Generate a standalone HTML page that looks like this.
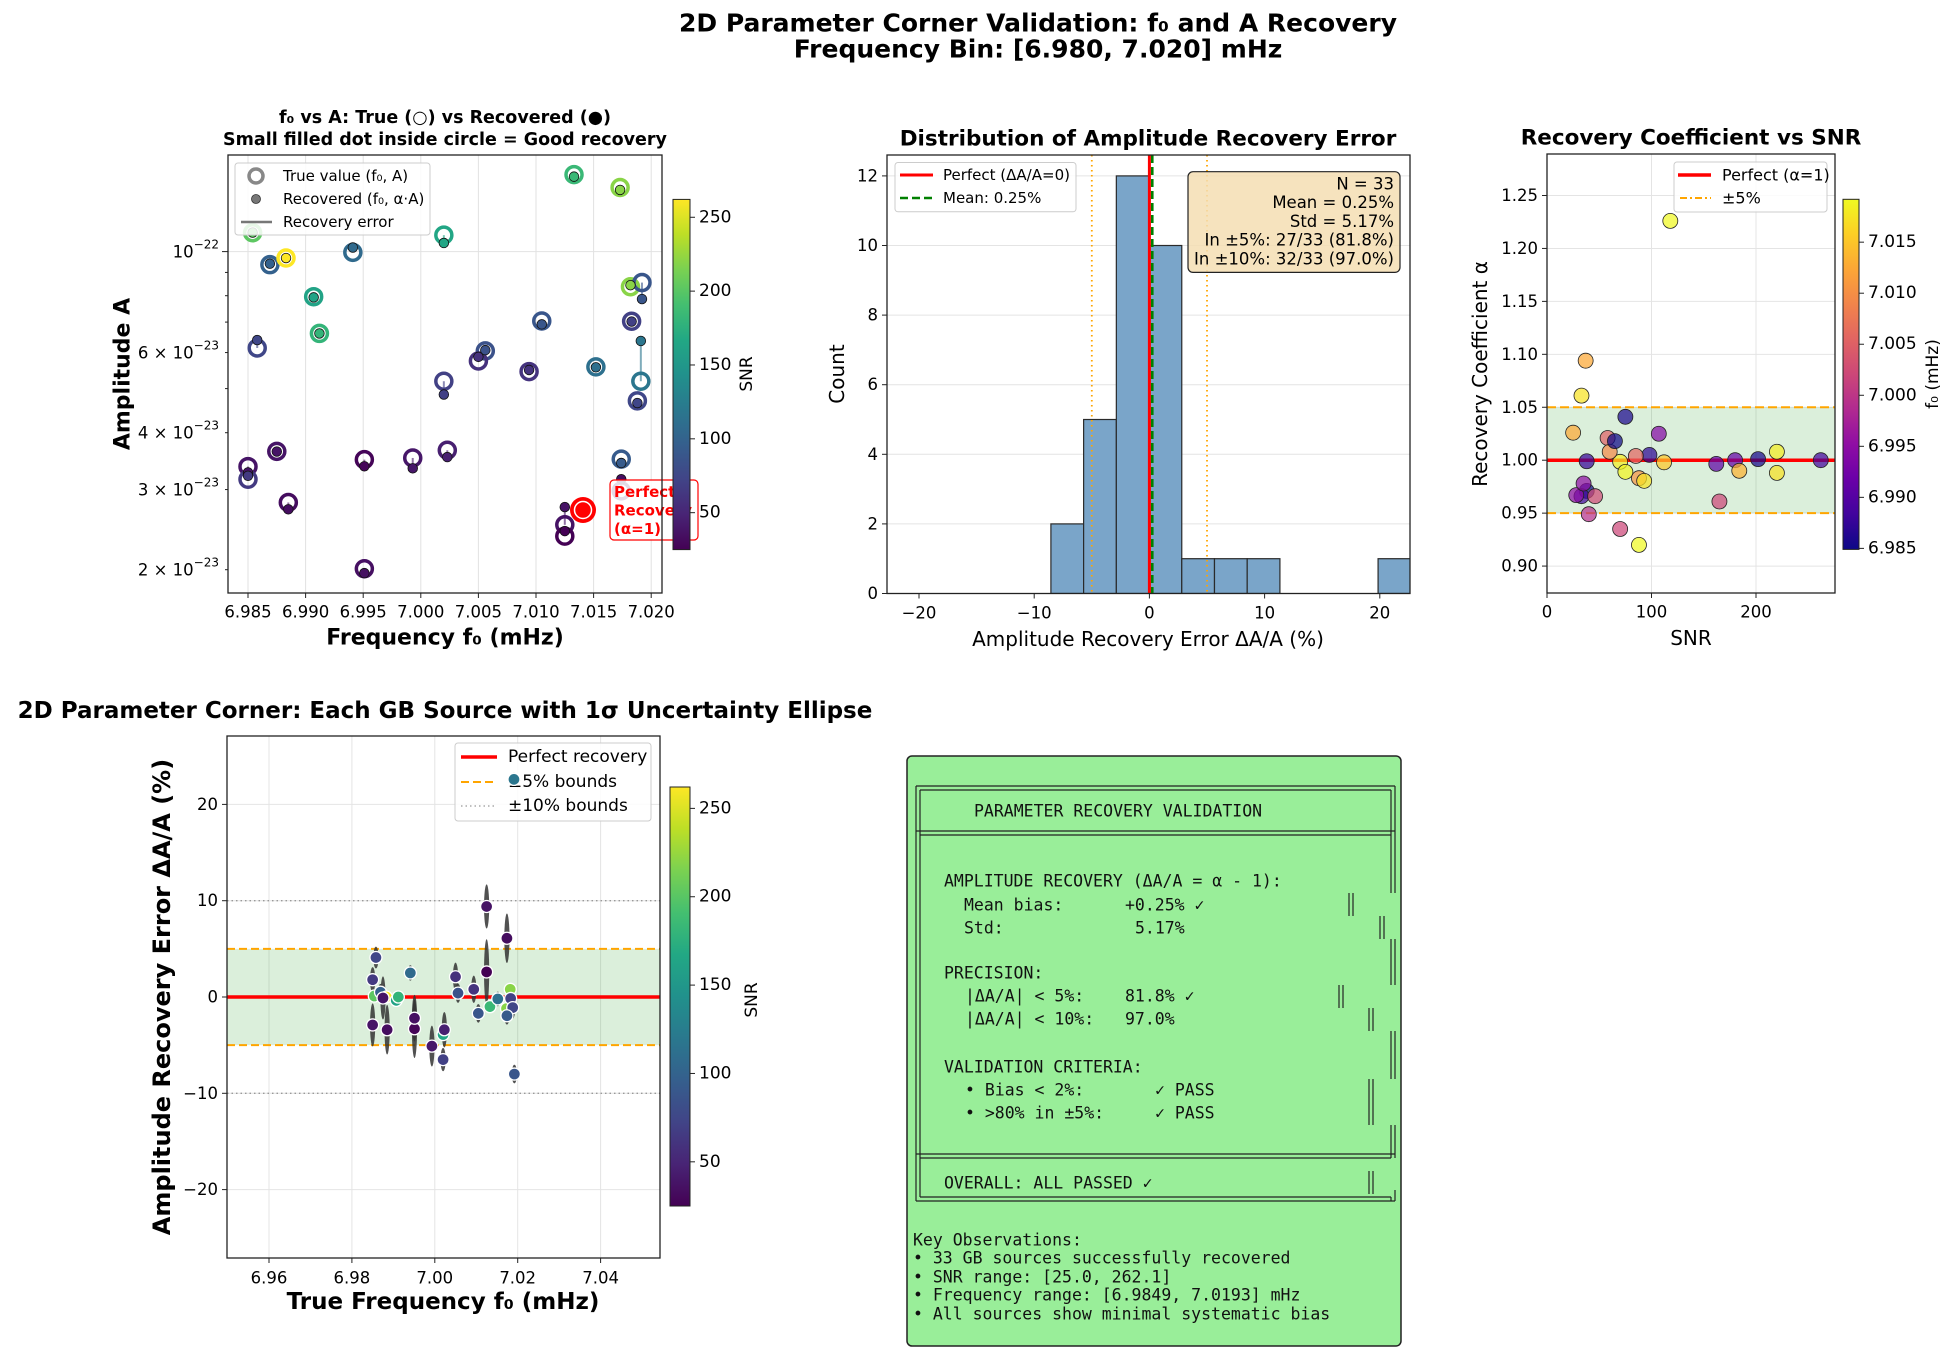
<!DOCTYPE html>
<html><head><meta charset="utf-8">
<style>
html,body{margin:0;padding:0;background:#fff;overflow:hidden;}
svg{display:block;font-family:"DejaVu Sans","Liberation Sans",sans-serif;}
.mono{font-family:"DejaVu Sans Mono","Liberation Mono",monospace;font-size:16.5px;fill:#111;}
</style></head>
<body>
<svg id="fig" width="1953" height="1350" viewBox="0 0 1953 1350" xmlns="http://www.w3.org/2000/svg">
<defs>
<linearGradient id="viridisV" x1="0" y1="1" x2="0" y2="0">
<stop offset="0" stop-color="#440154"/><stop offset="0.1" stop-color="#482475"/><stop offset="0.2" stop-color="#414487"/><stop offset="0.3" stop-color="#355f8d"/><stop offset="0.4" stop-color="#2a788e"/><stop offset="0.5" stop-color="#21918c"/><stop offset="0.6" stop-color="#22a884"/><stop offset="0.7" stop-color="#44bf70"/><stop offset="0.8" stop-color="#7ad151"/><stop offset="0.9" stop-color="#bddf26"/><stop offset="1" stop-color="#fde725"/>
</linearGradient>
<linearGradient id="plasmaV" x1="0" y1="1" x2="0" y2="0">
<stop offset="0" stop-color="#0d0887"/><stop offset="0.1" stop-color="#41049d"/><stop offset="0.2" stop-color="#6a00a8"/><stop offset="0.3" stop-color="#8f0da4"/><stop offset="0.4" stop-color="#b12a90"/><stop offset="0.5" stop-color="#cc4778"/><stop offset="0.6" stop-color="#e16462"/><stop offset="0.7" stop-color="#f2844b"/><stop offset="0.8" stop-color="#fca636"/><stop offset="0.9" stop-color="#fcce25"/><stop offset="1" stop-color="#f0f921"/>
</linearGradient>
<clipPath id="clip1"><rect x="228" y="155" width="434" height="438"/></clipPath>
<clipPath id="clip2"><rect x="887" y="155" width="523" height="438"/></clipPath>
<clipPath id="clip3"><rect x="1547" y="154" width="288" height="439"/></clipPath>
<clipPath id="clip4"><rect x="227" y="736" width="433" height="522"/></clipPath>
</defs>

<text x="1038" y="23" text-anchor="middle" dominant-baseline="central" font-size="25" font-weight="bold">2D Parameter Corner Validation: f₀ and A Recovery</text>
<text x="1038" y="49" text-anchor="middle" dominant-baseline="central" font-size="25" font-weight="bold">Frequency Bin: [6.980, 7.020] mHz</text>

<g id="p1">
<text x="445" y="118" text-anchor="middle" dominant-baseline="central" font-size="17.5" font-weight="bold">f₀ vs A: True (○) vs Recovered (●)</text>
<text x="445" y="140" text-anchor="middle" dominant-baseline="central" font-size="17.5" font-weight="bold">Small filled dot inside circle = Good recovery</text>
<text x="445" y="638" text-anchor="middle" dominant-baseline="central" font-size="22" font-weight="bold">Frequency f₀ (mHz)</text>
<text transform="translate(123,374) rotate(-90)" text-anchor="middle" dominant-baseline="central" font-size="22" font-weight="bold">Amplitude A</text>
<text transform="translate(747,374) rotate(-90)" text-anchor="middle" dominant-baseline="central" font-size="17">SNR</text>
</g>

<g id="p2">
<text x="1148" y="139" text-anchor="middle" dominant-baseline="central" font-size="21.5" font-weight="bold">Distribution of Amplitude Recovery Error</text>
<text x="1148" y="639" text-anchor="middle" dominant-baseline="central" font-size="20">Amplitude Recovery Error ΔA/A (%)</text>
<text transform="translate(837,374) rotate(-90)" text-anchor="middle" dominant-baseline="central" font-size="20">Count</text>
</g>

<g id="p3">
<text x="1691" y="138" text-anchor="middle" dominant-baseline="central" font-size="21.5" font-weight="bold">Recovery Coefficient vs SNR</text>
<text x="1691" y="638" text-anchor="middle" dominant-baseline="central" font-size="20">SNR</text>
<text transform="translate(1480,374) rotate(-90)" text-anchor="middle" dominant-baseline="central" font-size="20">Recovery Coefficient α</text>
<text transform="translate(1933,374) rotate(-90)" text-anchor="middle" dominant-baseline="central" font-size="17">f₀ (mHz)</text>
</g>

<g id="p4">
<text x="445" y="711" text-anchor="middle" dominant-baseline="central" font-size="23" font-weight="bold">2D Parameter Corner: Each GB Source with 1σ Uncertainty Ellipse</text>
<text x="443" y="1302" text-anchor="middle" dominant-baseline="central" font-size="23" font-weight="bold">True Frequency f₀ (mHz)</text>
<text transform="translate(162,997) rotate(-90)" text-anchor="middle" dominant-baseline="central" font-size="24" font-weight="bold">Amplitude Recovery Error ΔA/A (%)</text>
<text transform="translate(752,1000) rotate(-90)" text-anchor="middle" dominant-baseline="central" font-size="17">SNR</text>
</g>

<g id="p5">
<rect x="907" y="756" width="494" height="590" rx="5" fill="#99ee99" stroke="#222" stroke-width="1.5"/>
<g stroke="#222" stroke-width="1.2" fill="none">
<line x1="916" y1="786" x2="1395" y2="786"/><line x1="920" y1="790" x2="1391" y2="790"/>
<line x1="916" y1="831" x2="1395" y2="831"/><line x1="920" y1="835" x2="1391" y2="835"/>
<line x1="916" y1="1154" x2="1395" y2="1154"/><line x1="920" y1="1158" x2="1391" y2="1158"/>
<line x1="916" y1="1201" x2="1395" y2="1201"/><line x1="920" y1="1197" x2="1391" y2="1197"/>
<line x1="916" y1="786" x2="916" y2="1201"/><line x1="920" y1="790" x2="920" y2="1197"/>
<line x1="1391" y1="790" x2="1391" y2="893"/><line x1="1395" y1="786" x2="1395" y2="893"/>
<line x1="1391" y1="939" x2="1391" y2="985"/><line x1="1395" y1="939" x2="1395" y2="985"/>
<line x1="1391" y1="1031" x2="1391" y2="1079"/><line x1="1395" y1="1031" x2="1395" y2="1079"/>
<line x1="1391" y1="1125" x2="1391" y2="1158"/><line x1="1395" y1="1125" x2="1395" y2="1158"/>
<line x1="1391" y1="1197" x2="1391" y2="1201"/><line x1="1395" y1="1190" x2="1395" y2="1201"/>
<line x1="1349" y1="893" x2="1349" y2="916"/><line x1="1353" y1="893" x2="1353" y2="916"/>
<line x1="1380" y1="916" x2="1380" y2="939"/><line x1="1384" y1="916" x2="1384" y2="939"/>
<line x1="1339" y1="985" x2="1339" y2="1008"/><line x1="1343" y1="985" x2="1343" y2="1008"/>
<line x1="1369" y1="1008" x2="1369" y2="1031"/><line x1="1373" y1="1008" x2="1373" y2="1031"/>
<line x1="1369" y1="1079" x2="1369" y2="1125"/><line x1="1373" y1="1079" x2="1373" y2="1125"/>
<line x1="1369" y1="1171" x2="1369" y2="1194"/><line x1="1373" y1="1171" x2="1373" y2="1194"/>
</g>
<g class="mono" dominant-baseline="central">
<text x="974" y="811">PARAMETER RECOVERY VALIDATION</text>
<text x="944" y="881">AMPLITUDE RECOVERY (ΔA/A = α - 1):</text>
<text x="964" y="905">Mean bias:</text>
<text x="1125" y="905">+0.25%  ✓</text>
<text x="964" y="928">Std:</text>
<text x="1135" y="928">5.17%</text>
<text x="944" y="973">PRECISION:</text>
<text x="965" y="996">|ΔA/A| &lt; 5%:</text>
<text x="1125" y="996">81.8%  ✓</text>
<text x="965" y="1019">|ΔA/A| &lt; 10%:</text>
<text x="1125" y="1019">97.0%</text>
<text x="944" y="1067">VALIDATION CRITERIA:</text>
<text x="965" y="1090">• Bias &lt; 2%:</text>
<text x="1155" y="1090">✓ PASS</text>
<text x="965" y="1113">• &gt;80% in ±5%:</text>
<text x="1155" y="1113">✓ PASS</text>
<text x="944" y="1183">OVERALL: ALL PASSED ✓</text>
<text x="913" y="1240">Key Observations:</text>
<text x="913" y="1258">• 33 GB sources successfully recovered</text>
<text x="913" y="1277">• SNR range: [25.0, 262.1]</text>
<text x="913" y="1295">• Frequency range: [6.9849, 7.0193] mHz</text>
<text x="913" y="1314">• All sources show minimal systematic bias</text>
</g>
</g>
</svg>

<script>
// ---- data (33 sources) ----
const f0 = [6.9854,6.9869,6.9883,6.9941,6.9907,6.9912,6.9858,7.0020,7.0133,7.0173,7.0182,7.0192,7.0105,7.0183,7.0191,7.0056,7.0050,7.0094,7.0152,7.0020,7.0188,6.9850,6.9850,6.9875,6.9885,6.9951,6.9993,7.0023,6.9951,7.0174,7.0174,7.0125,7.0125];
const ampTrue = [11.0,9.36,9.68,9.96,7.96,6.61,6.14,10.87,14.76,13.83,8.37,8.55,7.04,7.03,5.19,6.05,5.75,5.45,5.58,5.19,4.70,3.37,3.16,3.64,2.81,3.49,3.52,3.66,2.01,3.50,2.98,2.51,2.37]; // x1e-23
const errPct = [0.1,0.5,0.0,2.5,-0.35,0.0,4.1,-3.9,-1.0,-1.2,0.8,-8.0,-1.7,-0.15,22.6,0.4,2.1,0.8,-0.2,-6.5,-1.1,-2.9,1.8,-0.1,-3.4,-3.3,-5.1,-3.4,-2.2,-1.95,6.1,9.4,2.6];
const snr = [202,98,262,107,162,180,75,165,184,220,220,88,88,70,118,85,58,60,112,70,75,38,65,38,33,28,40,46,35,93,33,37,25];
const histCounts = [2,5,12,10,1,1,1,0,0,0,1];
const histStart = -8.55;
const histWidth = 2.84;
const meanErr = 0.25;
const p1XTicks = [6.985,6.990,6.995,7.000,7.005,7.010,7.015,7.020];
const p1YTicks = [2,3,4,6,10];
const p1YTickLabels = ["2","3","4","6",""];
const p2XTicks = [-20,-10,0,10,20];
const p2YTicks = [0,2,4,6,8,10,12];
const p3XTicks = [0,100,200];
const p3YTicks = [0.90,0.95,1.00,1.05,1.10,1.15,1.20,1.25];
const p3CbTicks = [6.985,6.990,6.995,7.000,7.005,7.010,7.015];
const p4XTicks = [6.96,6.98,7.00,7.02,7.04];
const p4YTicks = [-20,-10,0,10,20];
const snrCbTicks = [50,100,150,200,250];
const snrMin = 25.0, snrMax = 262.1, fMin = 6.9849, fMax = 7.0192;

const NS = "http://www.w3.org/2000/svg";
const svg = document.getElementById('fig');
function mk(tag, attrs, parent){ const e=document.createElementNS(NS,tag); for(const k in attrs) e.setAttribute(k,attrs[k]); (parent||svg).appendChild(e); return e; }
function hex2rgb(h){return [parseInt(h.slice(1,3),16),parseInt(h.slice(3,5),16),parseInt(h.slice(5,7),16)];}
const VIR = ["#440154","#482475","#414487","#355f8d","#2a788e","#21918c","#22a884","#44bf70","#7ad151","#bddf26","#fde725"].map(hex2rgb);
const PLA = ["#0d0887","#41049d","#6a00a8","#8f0da4","#b12a90","#cc4778","#e16462","#f2844b","#fca636","#fcce25","#f0f921"].map(hex2rgb);
function cmap(st,t){ t=Math.max(0,Math.min(1,t)); const p=t*(st.length-1); const i=Math.min(st.length-2,Math.floor(p)); const f=p-i; const c=st[i].map((v,k)=>Math.round(v+(st[i+1][k]-v)*f)); return `rgb(${c[0]},${c[1]},${c[2]})`; }
const snrColor = s => cmap(VIR,(s-snrMin)/(snrMax-snrMin));
const fColor = f => cmap(PLA,(f-fMin)/(fMax-fMin));

// scales
const x1 = f => 248 + (f-6.985)/0.005*57.6;
const y1 = a => 251.6 - (Math.log10(a)-1)*455.1;
const x2 = v => 1149.4 + v*11.52;
const y2 = c => 593.5 - c*34.8;
const x3 = s => 1547 + s*1.045;
const y3 = a => 460.2 - (a-1)*1058.8;
const x4 = f => 269 + (f-6.96)/0.02*82.9;
const y4 = e => 997 - e*9.63;

function axesFrame(g,x,y,w,h){ const r=mk('rect',{x:x,y:y,width:w,height:h,fill:'none',stroke:'#222','stroke-width':1.3},g);   }
const TICK=16.5;

// ============ PANEL 1 ============
const g1 = document.getElementById('p1');
const gr1 = mk('g',{},g1);


p1XTicks.forEach(t=>{ mk('line',{x1:x1(t),x2:x1(t),y1:155,y2:593,stroke:'#e2e2e2','stroke-width':1},gr1); mk('line',{x1:x1(t),x2:x1(t),y1:593,y2:598,stroke:'#222'},g1);
  const l=mk('text',{x:x1(t),y:612,'font-size':TICK,'text-anchor':'middle','dominant-baseline':'central'},g1); l.textContent=t.toFixed(3);
  
   });
mk('line',{x1:228,x2:662,y1:y1(10),y2:y1(10),stroke:'#e2e2e2'},gr1);
[2,3,4,5,6,7,8,9,10].forEach(m=>{ mk('line',{x1:228,x2:m==10?222:225,y1:y1(m),y2:y1(m),stroke:'#222'},g1); });
p1YTicks.forEach((t,i)=>{ const l=mk('text',{x:219,y:y1(t),'font-size':TICK,'text-anchor':'end','dominant-baseline':'central'},g1);
  
  
  const base = t==10 ? "10" : p1YTickLabels[i]+" × 10"; const exp = t==10 ? "−22" : "−23";
  const a=mk('tspan',{},l); a.textContent=base; const b=mk('tspan',{dy:-7,'font-size':12},l); b.textContent=exp; });
const d1 = mk('g',{'clip-path':'url(#clip1)'},g1);


f0.forEach((f,i)=>{
  const c=snrColor(snr[i]); const xt=x1(f), yt=y1(ampTrue[i]), yr=y1(ampTrue[i]*(1+errPct[i]/100));
  const ln=mk('line',{x1:xt,x2:xt,y1:yt,y2:yr,stroke:c,'stroke-width':2,opacity:0.6},d1);
  
  
  const t=mk('circle',{cx:xt,cy:yt,r:8,fill:'none',stroke:c,'stroke-width':3.5},d1);
  
  
});
f0.forEach((f,i)=>{
  const r=mk('circle',{cx:x1(f),cy:y1(ampTrue[i]*(1+errPct[i]/100)),r:4.8,fill:snrColor(snr[i]),stroke:'#111','stroke-width':0.8},d1);
  
  
});
const pm=mk('g',{},g1);


mk('circle',{cx:583,cy:510,r:13,fill:'#ff0000'},pm); mk('circle',{cx:583,cy:510,r:8.5,fill:'none',stroke:'#fff','stroke-width':1.5},pm); mk('circle',{cx:583,cy:510,r:7,fill:'#f00'},pm);
const an=mk('g',{},g1);


mk('rect',{x:610,y:480,width:88,height:60,rx:4,fill:'#fff','fill-opacity':0.85,stroke:'#f00','stroke-width':1.2},an);
['Perfect','Recovery','(α=1)'].forEach((s,i)=>{ const t=mk('text',{x:614,y:492+i*18.5,'font-size':15,'font-weight':'bold',fill:'#f00','dominant-baseline':'central'},an); t.textContent=s; });
axesFrame(g1,228,155,434,438);
const lg1=mk('g',{},g1);


mk('rect',{x:235,y:163,width:195,height:72,rx:3,fill:'#fff','fill-opacity':0.85,stroke:'#ccc'},lg1);
mk('circle',{cx:256,cy:176,r:7,fill:'none',stroke:'#888','stroke-width':3.5},lg1);
mk('circle',{cx:256,cy:199,r:4.5,fill:'#777',stroke:'#333','stroke-width':0.8},lg1);
mk('line',{x1:241,x2:272,y1:222,y2:222,stroke:'#777','stroke-width':2.5},lg1);
[['True value (f₀, A)',176],['Recovered (f₀, α·A)',199],['Recovery error',222]].forEach(([s,y])=>{ const t=mk('text',{x:283,y:y,'font-size':15,'dominant-baseline':'central'},lg1); t.textContent=s; });
const cb1=mk('g',{},g1);


mk('rect',{x:673,y:199.4,width:17,height:350.2,fill:'url(#viridisV)',stroke:'#222','stroke-width':1},cb1);
snrCbTicks.forEach(v=>{ const y=549.6-(v-snrMin)/(snrMax-snrMin)*350.2; mk('line',{x1:690,x2:695,y1:y,y2:y,stroke:'#222'},cb1); const t=mk('text',{x:699,y:y,'font-size':17,'dominant-baseline':'central'},cb1); t.textContent=v; });

// ============ PANEL 2 ============
const g2=document.getElementById('p2');
p2YTicks.forEach(c=>{ mk('line',{x1:887,x2:1410,y1:y2(c),y2:y2(c),stroke:'#e4e4e4'},g2); mk('line',{x1:882,x2:887,y1:y2(c),y2:y2(c),stroke:'#222'},g2);
  const t=mk('text',{x:878,y:y2(c),'font-size':TICK,'text-anchor':'end','dominant-baseline':'central'},g2); t.textContent=c;
  
   });
p2XTicks.forEach(v=>{ mk('line',{x1:x2(v),x2:x2(v),y1:593.5,y2:598.5,stroke:'#222'},g2);
  const t=mk('text',{x:x2(v),y:613,'font-size':TICK,'text-anchor':'middle','dominant-baseline':'central'},g2); t.textContent=(v<0?'−':'')+Math.abs(v);
  
   });
const d2=mk('g',{'clip-path':'url(#clip2)'},g2);
histCounts.forEach((c,i)=>{ if(c<=0) return; const a=histStart+i*histWidth, b=a+histWidth;
  const r=mk('rect',{x:x2(a),y:y2(c),width:x2(b)-x2(a),height:y2(0)-y2(c),fill:'#7aa5c9',stroke:'#2a2a2a','stroke-width':1.2},d2);
  
   });
[-5,5].forEach(v=>{ const l=mk('line',{x1:x2(v),x2:x2(v),y1:155,y2:593.5,stroke:'#ffa500','stroke-width':1.8,'stroke-dasharray':'1.5,3.5'},d2);
  
   });
const rl=mk('line',{x1:x2(0),x2:x2(0),y1:155,y2:593.5,stroke:'#ff0000','stroke-width':3},d2);


const ml=mk('line',{x1:x2(meanErr),x2:x2(meanErr),y1:155,y2:593.5,stroke:'#008000','stroke-width':2.6,'stroke-dasharray':'8,4'},d2);


axesFrame(g2,887,155,523,438.5);
const lg2=mk('g',{},g2);


mk('rect',{x:895,y:162.5,width:181,height:49.3,rx:3,fill:'#fff','fill-opacity':0.85,stroke:'#ccc'},lg2);
mk('line',{x1:900,x2:933,y1:175,y2:175,stroke:'#f00','stroke-width':3},lg2);
mk('line',{x1:900,x2:933,y1:198,y2:198,stroke:'#008000','stroke-width':2.6,'stroke-dasharray':'8,4'},lg2);
[['Perfect (ΔA/A=0)',175],['Mean: 0.25%',198]].forEach(([s,y])=>{ const t=mk('text',{x:943,y:y,'font-size':15,'dominant-baseline':'central'},lg2); t.textContent=s; });
const sb=mk('g',{},g2);


mk('rect',{x:1188,y:171.7,width:212,height:100.7,rx:5,fill:'#f5deb3','fill-opacity':0.85,stroke:'#222','stroke-width':1.2},sb);
['N = 33','Mean = 0.25%','Std = 5.17%','In ±5%: 27/33 (81.8%)','In ±10%: 32/33 (97.0%)'].forEach((s,i)=>{ const t=mk('text',{x:1394,y:184+i*18.7,'font-size':16.5,'text-anchor':'end','dominant-baseline':'central'},sb); t.textContent=s; });

// ============ PANEL 3 ============
const g3=document.getElementById('p3');
p3XTicks.forEach(v=>{ mk('line',{x1:x3(v),x2:x3(v),y1:154,y2:593,stroke:'#e4e4e4'},g3); mk('line',{x1:x3(v),x2:x3(v),y1:593,y2:598,stroke:'#222'},g3);
  const t=mk('text',{x:x3(v),y:612,'font-size':TICK,'text-anchor':'middle','dominant-baseline':'central'},g3); t.textContent=v;
  
   });
p3YTicks.forEach(v=>{ mk('line',{x1:1547,x2:1835,y1:y3(v),y2:y3(v),stroke:'#e4e4e4'},g3); mk('line',{x1:1542,x2:1547,y1:y3(v),y2:y3(v),stroke:'#222'},g3);
  const t=mk('text',{x:1538,y:y3(v),'font-size':TICK,'text-anchor':'end','dominant-baseline':'central'},g3); t.textContent=v.toFixed(2);
  
   });
const d3=mk('g',{'clip-path':'url(#clip3)'},g3);
const band3=mk('rect',{x:1547,y:y3(1.05),width:288,height:y3(0.95)-y3(1.05),fill:'#2ca02c','fill-opacity':0.17},d3);


[0.95,1.05].forEach(v=>{ mk('line',{x1:1547,x2:1835,y1:y3(v),y2:y3(v),stroke:'#ffa500','stroke-width':2,'stroke-dasharray':'9,4'},d3); });
const rl3=mk('line',{x1:1547,x2:1835,y1:y3(1),y2:y3(1),stroke:'#ff0000','stroke-width':3.5},d3);


f0.forEach((f,i)=>{ const c=mk('circle',{cx:x3(snr[i]),cy:y3(1+errPct[i]/100),r:7.5,fill:fColor(f),'fill-opacity':0.72,stroke:'#222','stroke-width':0.8},d3);
  
   });
axesFrame(g3,1547,154,288,439);
const lg3=mk('g',{},g3);


mk('rect',{x:1674,y:162,width:153,height:50,rx:3,fill:'#fff','fill-opacity':0.85,stroke:'#ccc'},lg3);
mk('line',{x1:1678,x2:1711,y1:175,y2:175,stroke:'#f00','stroke-width':3.5},lg3);
mk('line',{x1:1680,x2:1711,y1:198,y2:198,stroke:'#ffa500','stroke-width':2,'stroke-dasharray':'7,3,2,3'},lg3);
[['Perfect (α=1)',175],['±5%',198]].forEach(([s,y])=>{ const t=mk('text',{x:1722,y:y,'font-size':16,'dominant-baseline':'central'},lg3); t.textContent=s; });
const cb3=mk('g',{},g3);


mk('rect',{x:1843,y:199.3,width:16,height:350.1,fill:'url(#plasmaV)',stroke:'#222','stroke-width':1},cb3);
p3CbTicks.forEach(v=>{ const y=549.4-(v-fMin)/(fMax-fMin)*350.1; mk('line',{x1:1859,x2:1864,y1:y,y2:y,stroke:'#222'},cb3); const t=mk('text',{x:1868,y:y,'font-size':17,'dominant-baseline':'central'},cb3); t.textContent=v.toFixed(3); });

// ============ PANEL 4 ============
const g4=document.getElementById('p4');
p4XTicks.forEach(v=>{ mk('line',{x1:x4(v),x2:x4(v),y1:736,y2:1258,stroke:'#e4e4e4'},g4); mk('line',{x1:x4(v),x2:x4(v),y1:1258,y2:1263,stroke:'#222'},g4);
  const t=mk('text',{x:x4(v),y:1278,'font-size':TICK,'text-anchor':'middle','dominant-baseline':'central'},g4); t.textContent=v.toFixed(2);
  
   });
p4YTicks.forEach(v=>{ mk('line',{x1:227,x2:660,y1:y4(v),y2:y4(v),stroke:'#e4e4e4'},g4); mk('line',{x1:222,x2:227,y1:y4(v),y2:y4(v),stroke:'#222'},g4);
  const t=mk('text',{x:218,y:y4(v),'font-size':TICK,'text-anchor':'end','dominant-baseline':'central'},g4); t.textContent=(v<0?'−':'')+Math.abs(v);
  
   });
const d4=mk('g',{'clip-path':'url(#clip4)'},g4);
const band4=mk('rect',{x:227,y:y4(5),width:433,height:y4(-5)-y4(5),fill:'#2ca02c','fill-opacity':0.17},d4);


[-10,10].forEach(v=>{ mk('line',{x1:227,x2:660,y1:y4(v),y2:y4(v),stroke:'#999','stroke-width':1.3,'stroke-dasharray':'1.5,3'},d4); });
[-5,5].forEach(v=>{ mk('line',{x1:227,x2:660,y1:y4(v),y2:y4(v),stroke:'#ffa500','stroke-width':2,'stroke-dasharray':'8,4'},d4); });
const rl4=mk('line',{x1:227,x2:660,y1:y4(0),y2:y4(0),stroke:'#ff0000','stroke-width':3.5},d4);


f0.forEach((f,i)=>{ const sig=85/snr[i]; const e=mk('ellipse',{cx:x4(f),cy:y4(errPct[i]),rx:2.6,ry:sig*9.63,fill:'#333','fill-opacity':0.85},d4);
  
   });
axesFrame(g4,227,736,433,522);
const lg4=mk('g',{},g4);


mk('rect',{x:455,y:743,width:196,height:78,rx:3,fill:'#fff','fill-opacity':0.85,stroke:'#ccc'},lg4);
mk('line',{x1:461,x2:497,y1:757,y2:757,stroke:'#f00','stroke-width':3.5},lg4);
mk('line',{x1:461,x2:497,y1:782,y2:782,stroke:'#ffa500','stroke-width':2,'stroke-dasharray':'8,4'},lg4);
mk('line',{x1:461,x2:497,y1:806,y2:806,stroke:'#999','stroke-width':1.3,'stroke-dasharray':'1.5,3'},lg4);
[['Perfect recovery',757],['±5% bounds',782],['±10% bounds',806]].forEach(([s,y])=>{ const t=mk('text',{x:508,y:y,'font-size':17,'dominant-baseline':'central'},lg4); t.textContent=s; });
const d4b=mk('g',{'clip-path':'url(#clip4)'},g4);
f0.forEach((f,i)=>{ const c=mk('circle',{cx:x4(f),cy:y4(errPct[i]),r:6,fill:snrColor(snr[i]),stroke:'#fff','stroke-width':1.3},d4b);
  
   });
const cb4=mk('g',{},g4);


mk('rect',{x:670,y:787,width:20,height:419,fill:'url(#viridisV)',stroke:'#222','stroke-width':1},cb4);
snrCbTicks.forEach(v=>{ const y=1206-(v-snrMin)/(snrMax-snrMin)*419; mk('line',{x1:690,x2:695,y1:y,y2:y,stroke:'#222'},cb4); const t=mk('text',{x:699,y:y,'font-size':17,'dominant-baseline':'central'},cb4); t.textContent=v; });
</script>
</body></html>
